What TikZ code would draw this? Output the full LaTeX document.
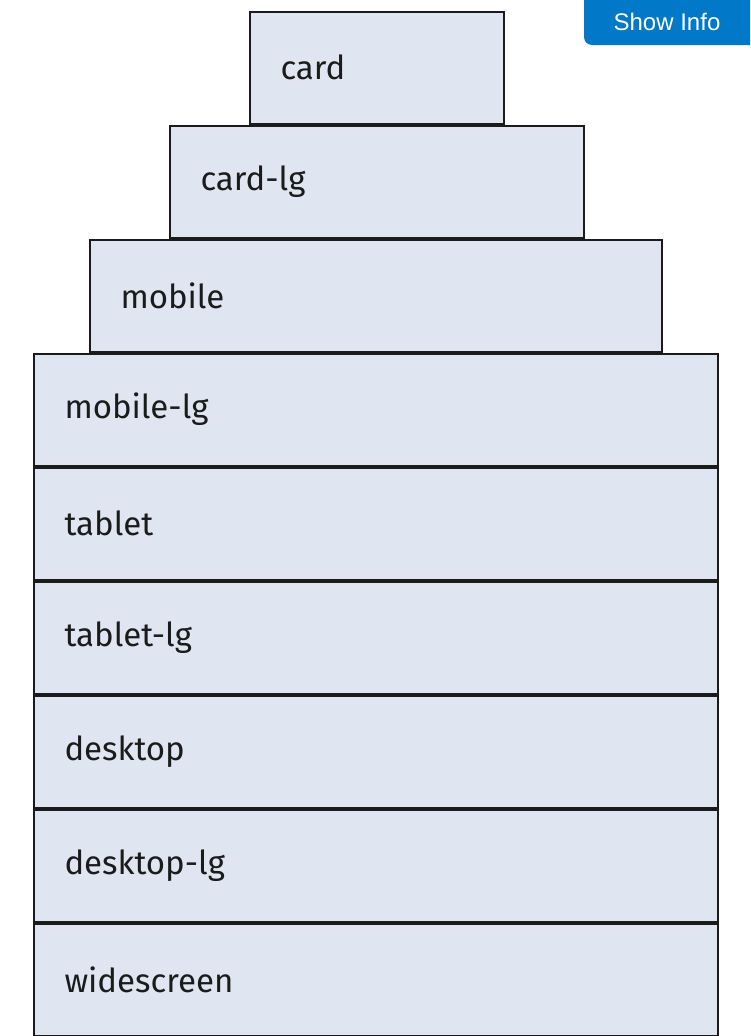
\documentclass[tikz,border=0pt]{standalone}
\usepackage{fontspec}
\setmainfont{Fira Sans}
\newfontfamily\infofont{Liberation Sans}
\usepackage{xcolor}
\usepackage{tikz}

\definecolor{boxfill}{HTML}{E0E6F1}
\definecolor{boxline}{HTML}{1B1B1B}
\definecolor{infoblue}{HTML}{0178C8}

\begin{document}
\begin{tikzpicture}[x=1pt,y=-1pt,
    bp/.style={draw=boxline,line width=2pt,fill=boxfill,anchor=north west,
        minimum height=112pt,inner xsep=31pt,inner ysep=0pt,align=left,
        text=boxline,font=\fontsize{33}{38}\selectfont},
    infotext/.style={text=white,font=\infofont\fontsize{24}{28}\selectfont}]
            %%% CANVAS %%%
            \useasboundingbox (0,0) rectangle (750,1036);

            %%% BREAKPOINTS %%%
            \node[bp,text width=192pt] (card) at (248.5,10.5) {card};
            \node[bp,text width=352pt] (cardlg) at (168.5,124.5) {card-lg};
            \node[bp,text width=510pt] (mobile) at (88.5,238.5) {mobile};
            \node[bp,text width=622pt] (mobilelg) at (32.5,352.5) {mobile-lg};
            \node[bp,text width=622pt] (tablet) at (32.5,466.5) {tablet};
            \node[bp,text width=622pt] (tabletlg) at (32.5,580.5) {tablet-lg};
            \node[bp,text width=622pt] (desktop) at (32.5,694.5) {desktop};
            \node[bp,text width=622pt] (desktoplg) at (32.5,808.5) {desktop-lg};
            \node[bp,text width=622pt] (widescreen) at (32.5,922.5) {widescreen};

            %%% BUTTON %%%
            \fill[infoblue] (584,0) -- (584,37) arc[start angle=180,end angle=90,radius=8] -- (750,45) -- (750,0) -- cycle;
            \node[infotext] (info) at (667,22) {Show Info};
        \end{tikzpicture}
\end{document}
